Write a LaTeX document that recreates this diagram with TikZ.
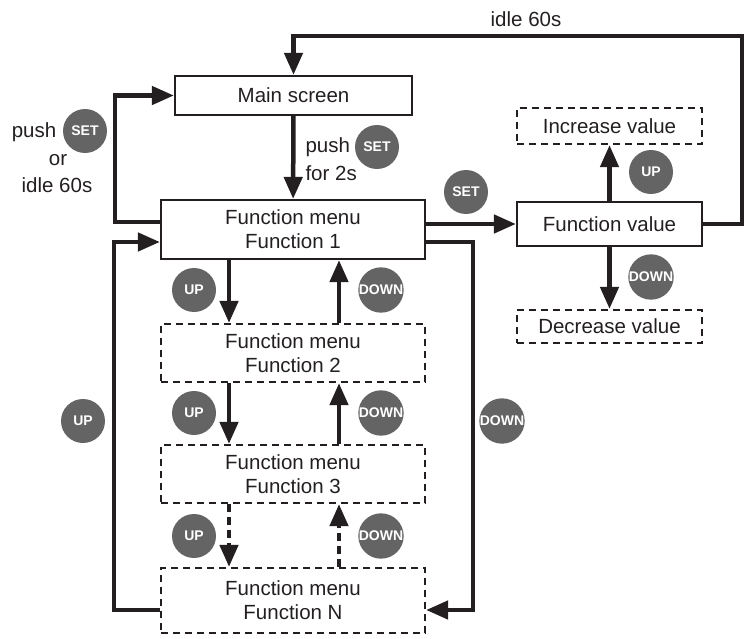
\documentclass[tikz,border=0pt]{standalone}
\usepackage{fontspec}
\setmainfont{Liberation Sans}
\usetikzlibrary{arrows.meta}
\definecolor{ink}{HTML}{231F20}
\definecolor{btngray}{HTML}{646464}

\begin{document}
\begin{tikzpicture}[x = 1pt, y = -1pt, color = ink,
  font = \fontsize{20.5}{24}\selectfont,
  box/.style = {draw, line width = 2.2pt, inner sep = 0pt, align = center},
  dbox/.style = {box, dash pattern = on 7pt off 5pt},
  btn/.style = {circle, fill = btngray, minimum size = 44pt, inner sep = 0pt,
    text = white, font = \fontsize{14}{14}\selectfont\bfseries},
  flow/.style = {line width = 4.5pt, -{Triangle[length = 22pt, width = 18pt]}},
  dflow/.style = {flow, dash pattern = on 8pt off 5pt}]
\useasboundingbox (0, 0) rectangle (749, 639);

% menu boxes
\node (main) [box, minimum width = 237pt, minimum height = 39pt] at (293.5, 95.5) {Main screen};
\node (f1) [box, minimum width = 264pt, minimum height = 59pt] at (293, 229.5) {Function menu\\Function 1};
\node (f2) [dbox, minimum width = 264pt, minimum height = 58pt] at (293, 353) {Function menu\\Function 2};
\node (f3) [dbox, minimum width = 264pt, minimum height = 58pt] at (293, 474) {Function menu\\Function 3};
\node (fN) [dbox, minimum width = 264pt, minimum height = 65pt] at (293, 600.5) {Function menu\\Function N};
\node (fval) [box, minimum width = 185pt, minimum height = 44pt] at (609.5, 224) {Function value};
\node (inc) [dbox, minimum width = 185pt, minimum height = 36pt] at (609.5, 126) {Increase value};
\node (dec) [dbox, minimum width = 185pt, minimum height = 33pt] at (609.5, 326.5) {Decrease value};

% main screen and set
\draw[flow] (main) -- (f1);
\node (pushA) [anchor = west] at (302, 147) {push};
\node (forA) [anchor = west] at (302, 173) {for 2s};
\node (setA) [btn] at (377, 147) {SET};
\draw[flow] ([yshift = 7.5pt]f1.west) -- ++(-45, 0) |- (main.west);
\node (pushB) at (34, 132) {push};
\node (setB) [btn] at (85, 131) {SET};
\node (orB) at (58, 160) {or};
\node (idleB) at (57, 185) {idle 60s};

% function value
\draw[flow] (f1.east |- fval) -- (fval);
\node (setC) [btn] at (466, 192) {SET};
\draw[flow] (fval) -- (inc);
\draw[flow] (fval) -- (dec);
\node (upC) [btn] at (651, 172) {UP};
\node (downC) [btn] at (651, 277) {DOWN};
\coordinate (topR) at (742, 36);
\draw[flow] (fval.east) -| (topR) -| (main.north);
\node (idleT) at (526, 19) {idle 60s};

% walking through the menu
\foreach \a/\b in {f1/f2, f2/f3}{
  \draw[flow] ([xshift = -64pt]\a.south) -- ([xshift = -64pt]\b.north);
  \draw[flow] ([xshift = 46pt]\b.north) -- ([xshift = 46pt]\a.south);
}
\draw[dflow] ([xshift = -64pt]f3.south) -- ([xshift = -64pt]fN.north);
\draw[dflow] ([xshift = 46pt]fN.north) -- ([xshift = 46pt]f3.south);
\foreach \y [count = \i] in {290, 413, 536}{
  \node (up\i) [btn] at (194, \y) {UP};
  \node (down\i) [btn] at (381, \y) {DOWN};
}

% wrap around
\draw[flow] ([yshift = -9.5pt]fN.west) -- ++(-46, 0) |- ([yshift = -12.5pt]f1.west);
\draw[flow] ([yshift = -12.5pt]f1.east) -- ++(47, 0) |- ([yshift = -9.5pt]fN.east);
\node (upL) [btn] at (83, 421) {UP};
\node (downR) [btn] at (502, 421) {DOWN};
\end{tikzpicture}
\end{document}
